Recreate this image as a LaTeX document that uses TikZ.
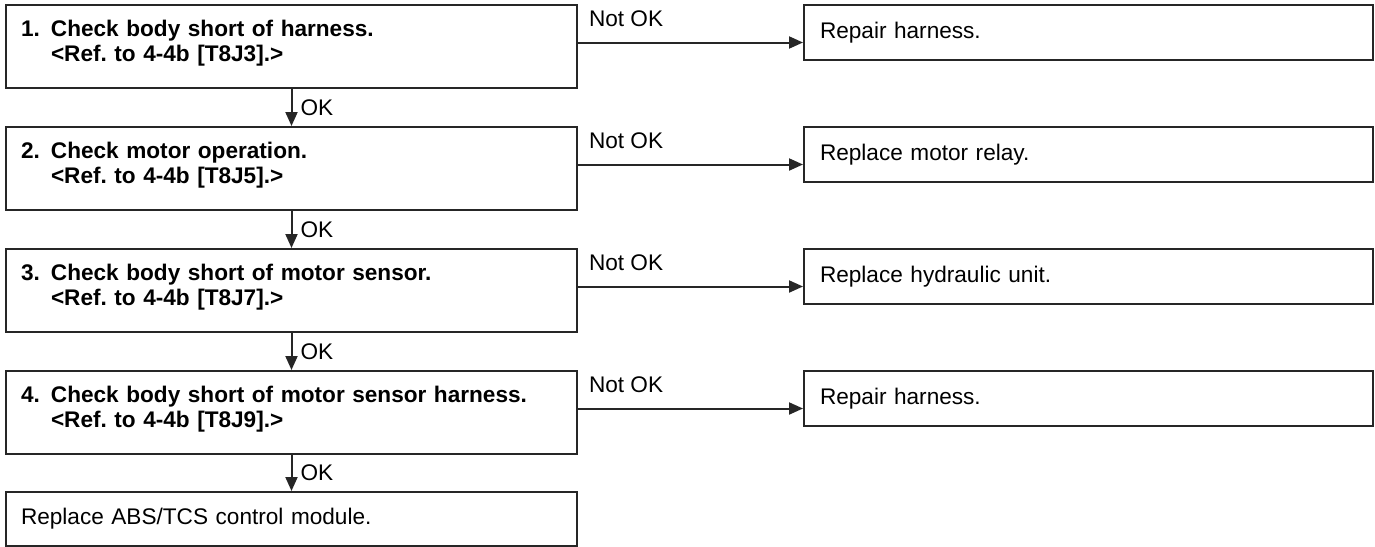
\documentclass[tikz,border=0pt]{standalone}
\usepackage{fontspec}
\setmainfont{Liberation Sans}
\frenchspacing
\usetikzlibrary{arrows.meta}
\usetikzlibrary{calc}

\newcommand{\steptext}[3]{\makebox[15pt][l]{#1}#2\\\hspace*{15pt}#3}

\tikzset{
  stepbox/.style={draw, anchor=north west, inner xsep=7.5pt, inner ysep=0pt,
    text width=270.5pt, align=left, font=\fontsize{11.3}{12.5}\selectfont\bfseries,
    text height=15.5pt, text depth=26pt},
  fixbox/.style={draw, anchor=north west, inner xsep=8pt, inner ysep=0pt,
    text width=268.5pt, align=left, minimum height=27.5pt},
  lbl/.style={inner sep=0pt},
}

\begin{document}
\begin{tikzpicture}[
  x=0.5pt, y=-0.5pt,
  line width=1pt,
  draw=black!85,
  font=\fontsize{11.3}{12.5}\selectfont,
  >={Triangle[length=7pt,width=6pt]},
]

  \useasboundingbox (0,0) rectangle (1375,546);

  % Checks
  \node[stepbox] (check1) at (5,4)
    {\steptext{1.}{Check body short of harness.}{<Ref. to 4-4b [T8J3].>}};
  \node[stepbox] (check2) at (5,126)
    {\steptext{2.}{Check motor operation.}{<Ref. to 4-4b [T8J5].>}};
  \node[stepbox] (check3) at (5,248)
    {\steptext{3.}{Check body short of motor sensor.}{<Ref. to 4-4b [T8J7].>}};
  \node[stepbox] (check4) at (5,370)
    {\steptext{4.}{Check body short of motor sensor harness.}{<Ref. to 4-4b [T8J9].>}};
  \node[fixbox, inner xsep=7.5pt, text width=270.5pt, minimum height=27pt] (module) at (5,491)
    {Replace ABS/TCS control module.};

  % Repairs
  \node[fixbox] (fix1) at (803,4)   {Repair harness.};
  \node[fixbox] (fix2) at (803,126) {Replace motor relay.};
  \node[fixbox] (fix3) at (803,248) {Replace hydraulic unit.};
  \node[fixbox] (fix4) at (803,370) {Repair harness.};

  % OK arrows
  \draw[->] (check1) -- (check2) node[lbl, midway, anchor=west, xshift=4pt] {OK};
  \draw[->] (check2) -- (check3) node[lbl, midway, anchor=west, xshift=4pt] {OK};
  \draw[->] (check3) -- (check4) node[lbl, midway, anchor=west, xshift=4pt] {OK};
  \draw[->] (check4) -- (module) node[lbl, midway, anchor=west, xshift=4pt] {OK};

  % Not OK arrows
  \draw[->] ([yshift=2pt]check1.east) -- ([yshift=2pt]check1.east -| fix1.west)
    node[lbl, pos=0, anchor=base west, xshift=5pt, yshift=8pt] {Not OK};
  \draw[->] ([yshift=2pt]check2.east) -- ([yshift=2pt]check2.east -| fix2.west)
    node[lbl, pos=0, anchor=base west, xshift=5pt, yshift=8pt] {Not OK};
  \draw[->] ([yshift=2pt]check3.east) -- ([yshift=2pt]check3.east -| fix3.west)
    node[lbl, pos=0, anchor=base west, xshift=5pt, yshift=8pt] {Not OK};
  \draw[->] ([yshift=2pt]check4.east) -- ([yshift=2pt]check4.east -| fix4.west)
    node[lbl, pos=0, anchor=base west, xshift=5pt, yshift=8pt] {Not OK};

\end{tikzpicture}
\end{document}
